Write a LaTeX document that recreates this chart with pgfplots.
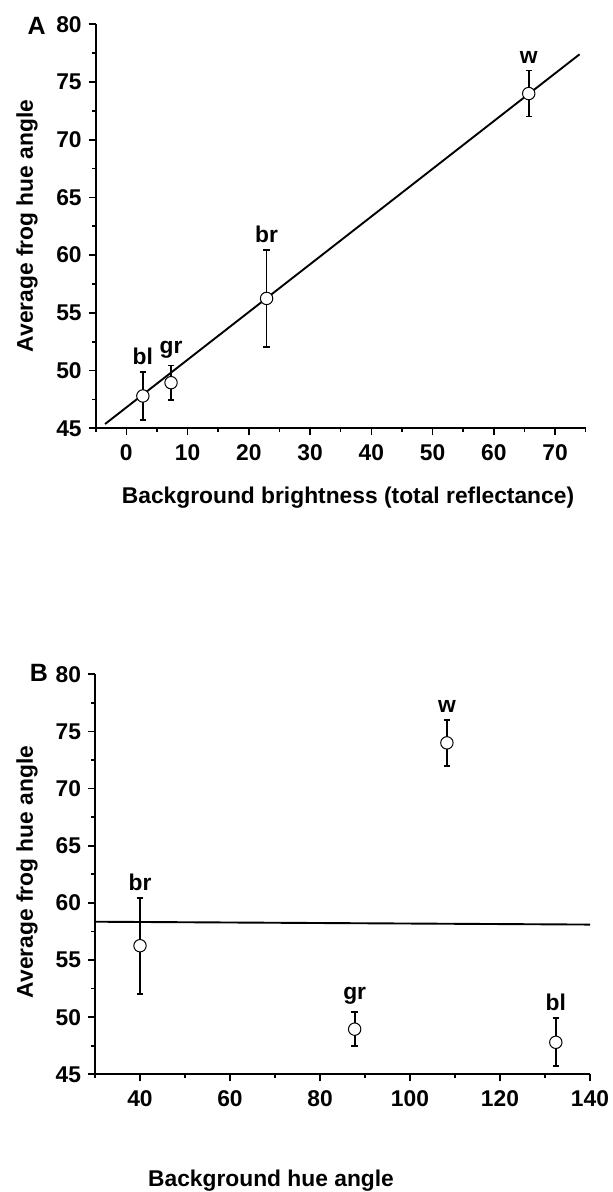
\documentclass[border=0pt]{standalone}
\usepackage{fontspec}
\setmainfont{Liberation Sans}
\usepackage{pgfplots}
\pgfplotsset{compat=1.18}
\tikzset{lblstyle/.style={anchor=south, inner sep=0pt, yshift=3.5pt}}
\begin{document}
\begin{tikzpicture}[font=\fontsize{11.4}{13}\selectfont\bfseries]
\path[use as bounding box] (0,0) rectangle (306.5pt,596pt);
\pgfplotsset{
 frogstyle/.style={
  scale only axis,
  axis lines*=left,
  axis line style={line width=1.05pt},
  tick align=outside,
  major tick length=3.5pt,
  minor tick length=1.8pt,
  tick style={line width=0.8pt, black},
  ymin=45, ymax=80, ytick={45,50,...,80}, minor ytick={47.5,52.5,...,77.5},
  /pgf/number format/assume math mode=true,
  tick label style={font=\fontsize{11.4}{13}\selectfont\bfseries},
  xticklabel style={yshift=-1pt},
  clip=false,
 },
 errstyle/.style={only marks, mark=*, mark size=3.1pt,
  mark options={fill=white, draw=black, line width=0.5pt},
  error bars/y dir=both, error bars/y explicit,
  error bars/error bar style={line width=0.85pt, black},
  error bars/error mark options={rotate=90, mark size=1.6pt, line width=0.85pt, black}},
}
% Panel A
\begin{axis}[frogstyle, at={(47.85pt,381.85pt)}, anchor=south west,
  width=245pt, height=202pt, xmin=-5, xmax=75,
  xtick={0,10,...,70}, minor xtick={-5,5,...,75}]
\addplot[errstyle] coordinates {
 (2.7,47.8) +- (0,2.1)
 (7.3,48.95) +- (0,1.5)
 (22.9,56.25) +- (0,4.2)
 (65.7,74.0) +- (0,2.0)
};
\addplot[line width=0.95pt, no marks, black] coordinates {(-3.47,45.37) (74,77.4)};
\node[lblstyle] at (axis cs:2.7,49.9) {bl};
\node[lblstyle] at (axis cs:7.3,50.45) {gr};
\node[lblstyle] at (axis cs:22.9,60.45) {br};
\node[lblstyle] at (axis cs:65.7,76.0) {w};
\end{axis}
% Panel B
\begin{axis}[frogstyle, at={(47.5pt,58.85pt)}, anchor=south west,
  width=247.5pt, height=200pt, xmin=30, xmax=140,
  xtick={40,60,...,140}, minor xtick={30,50,...,130}]
\addplot[line width=0.95pt, no marks, black] coordinates {(30,58.35) (140,58.1)};
\addplot[errstyle] coordinates {
 (40,56.25) +- (0,4.2)
 (87.7,48.95) +- (0,1.5)
 (108.2,74.0) +- (0,2.0)
 (132.4,47.8) +- (0,2.1)
};
\node[lblstyle] at (axis cs:40,60.45) {br};
\node[lblstyle] at (axis cs:87.7,50.45) {gr};
\node[lblstyle] at (axis cs:108.2,76.0) {w};
\node[lblstyle] at (axis cs:132.4,49.9) {bl};
\end{axis}
% axis titles and panel letters
\node[anchor=base] at (174pt,344pt) {Background brightness (total reflectance)};
\node[anchor=base] at (135.5pt,2.5pt) {Background hue angle};
\node[rotate=90] at (13.5pt,483pt) {Average frog hue angle};
\node[rotate=90] at (13.5pt,160pt) {Average frog hue angle};
\node[font=\fontsize{12.5}{14}\selectfont\bfseries] at (18.35pt,583.25pt) {A};
\node[font=\fontsize{12.5}{14}\selectfont\bfseries] at (19.5pt,259.75pt) {B};
\end{tikzpicture}
\end{document}
